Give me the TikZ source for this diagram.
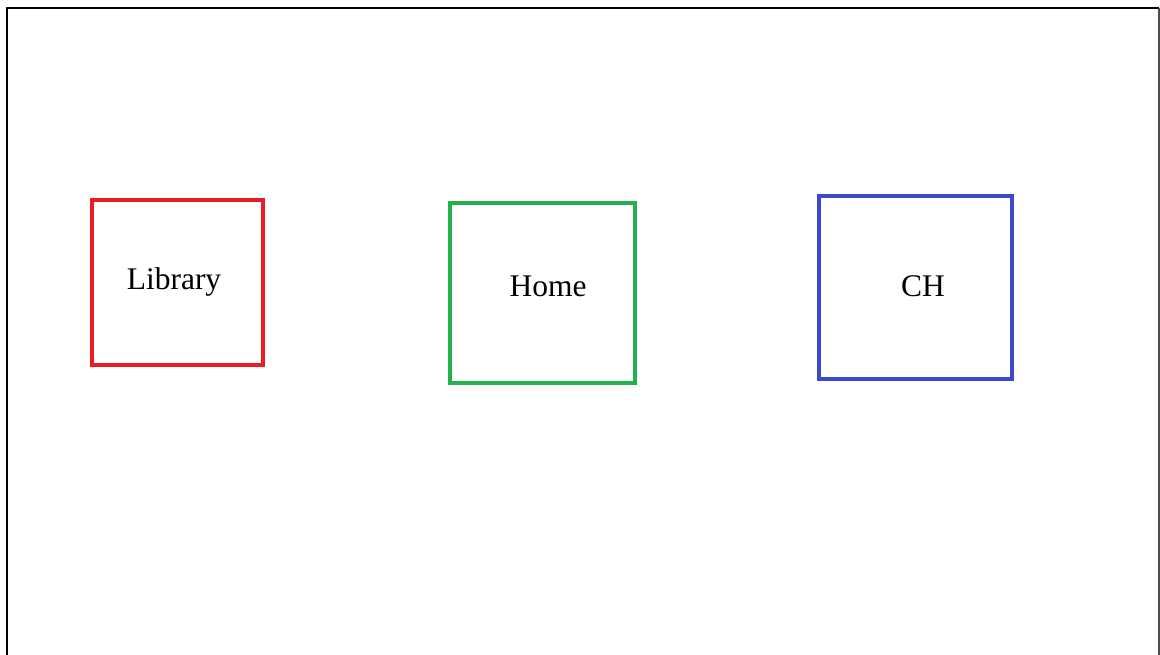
\documentclass[tikz,border=0pt]{standalone}
\usepackage{fontspec}
\setmainfont{Liberation Serif}
\definecolor{pred}{HTML}{ED1C24}
\definecolor{pgreen}{HTML}{22B14C}
\definecolor{pblue}{HTML}{3F48CC}
\tikzset{
  room/.style={draw, line width=4pt, rectangle, inner sep=0pt},
  lbl/.style={anchor=base, inner sep=0pt, font=\fontsize{31.5}{36}\selectfont}
}
\begin{document}
\begin{tikzpicture}[x=1pt,y=-1pt]
\useasboundingbox[fill=white] (0,0) rectangle (1160,654);
% frame
\draw[line width=2pt, black] (7,660) -- (7,8) -- (1159,8);
\draw[line width=1.5pt, black!70] (1159,8) -- (1159,660);
% boxes
\node[room, draw=pred, minimum width=171pt, minimum height=165pt] (lib) at (177.5,282.5) {};
\node[room, draw=pgreen, minimum width=185pt, minimum height=180pt] (home) at (542.5,293) {};
\node[room, draw=pblue, minimum width=193pt, minimum height=183pt] (ch) at (915.5,287.5) {};
% labels
\node[lbl] (tlib) at (174,289) {Library};
\node[lbl] (thome) at (548,296) {Home};
\node[lbl] (tch) at (923,296) {CH};
\end{tikzpicture}
\end{document}
